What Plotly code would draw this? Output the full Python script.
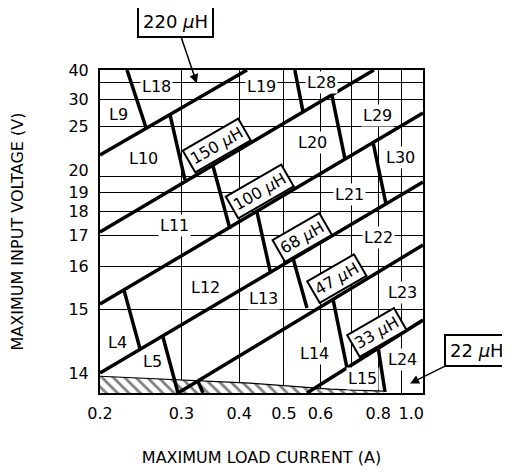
import numpy as np
import plotly.graph_objects as go

# ---- axis definitions -------------------------------------------------------
VOUT = 12.0          # output voltage of the regulator (y axis is E*T, log scale)

x_tick_vals = [0.2, 0.3, 0.4, 0.5, 0.6, 0.8, 1.0]
x_tick_text = ["0.2", "0.3", "0.4", "0.5", "0.6", "0.8", "1.0"]
x_grid_vals = [0.3, 0.4, 0.5, 0.6, 0.7, 0.8, 0.9]

y_tick_vals = [14, 15, 16, 17, 18, 19, 20, 25, 30, 40]
y_tick_text = ["14", "15", "16", "17", "18", "19", "20", "25", "30", "40"]
y_grid_vals = [15, 16, 17, 18, 19, 20, 25, 30, 35]

I_MIN, I_MAX = 0.2, 1.0
V_MIN, V_MAX = 13.78, 40.0

# ---- inductance boundaries (thick diagonal lines) ---------------------------
bound_i_start = [0.2, 0.2, 0.2, 0.2, 0.295, 0.561]
bound_v_start = [21.77, 17.14, 15.11, 14.01, 13.78, 13.78]
bound_i_end = [0.416, 0.783, 1.0, 1.0, 1.0, 1.0]
bound_v_end = [40.0, 40.0, 27.2, 19.66, 16.67, 14.80]

# ---- part-number dividers (thick near-vertical lines) -----------------------
div_i_start = [0.2288, 0.528, 0.2836, 0.6355, 0.3512, 0.4373, 0.7794,
               0.2254, 0.2738, 0.5232, 0.6386, 0.7992, 0.3259]
div_v_start = [40.0, 40.0, 26.85, 30.9, 20.82, 17.99, 23.09,
               15.41, 14.51, 16.25, 15.21, 14.36, 13.91]
div_i_end = [0.2515, 0.550, 0.3054, 0.678, 0.3822, 0.4667, 0.8317,
             0.2442, 0.2950, 0.561, 0.6848, 0.8276, 0.3342]
div_v_end = [24.9, 27.4, 19.8, 21.4, 17.26, 15.89, 18.38,
             14.33, 13.78, 15.03, 14.07, 13.79, 13.78]

# ---- forbidden (hatched) zone upper edge ------------------------------------
hatch_i = [0.2, 0.4223, 0.6292, 0.8194]
hatch_v = [13.97, 13.89, 13.822, 13.80]

# ---- part labels --------------------------------------------------------------
part_names = ["L9", "L18", "L19", "L28", "L10", "L29", "L20", "L30", "L11",
              "L21", "L22", "L12", "L13", "L23", "L4", "L5", "L14", "L24", "L15"]
part_i = [0.2198, 0.2656, 0.4462, 0.6016, 0.2490, 0.7952, 0.5752, 0.8920, 0.2892,
          0.6950, 0.7992, 0.3375, 0.4528, 0.9008, 0.2177, 0.2592, 0.5838, 0.9008, 0.7380]
part_v = [27.03, 33.68, 33.68, 34.69, 21.49, 26.85, 22.98, 21.58, 17.38,
          18.92, 16.92, 15.46, 15.23, 15.35, 14.43, 14.15, 14.27, 14.18, 13.948]

# ---- inductance value tags (rotated boxes) ----------------------------------
ind_names = ["150", "100", "68", "47", "33"]
ind_i = [0.3582, 0.4438, 0.5472, 0.6519, 0.7952]
ind_v = [22.66, 19.04, 16.95, 15.68, 14.58]

# ---- callouts with arrows -----------------------------------------------------
call_names = ["220", "22"]
call_i = [0.3239, 0.9376]
call_v = [34.58, 13.886]
call_ax = [-21, 67]
call_ay = [-62, -33]

# small label nudges (as in the original drawing, crowded labels are shifted)
x_label_nudge = {1.0: 0.943}
y_label_nudge = {20: 20.5}


def et(v):
    v = np.asarray(v, dtype=float)
    return (v - VOUT) * VOUT / v


def seg_xy(i0, v0, i1, v1):
    xs, ys = [], []
    for a, b, c, d in zip(i0, v0, i1, v1):
        xs += [a, c, None]
        ys += [float(et(b)), float(et(d)), None]
    return xs, ys


fig = go.Figure()

# hatched zone
hx = hatch_i + [hatch_i[-1], hatch_i[0]]
hy = list(et(hatch_v)) + [float(et(V_MIN)) * 0.98, float(et(V_MIN)) * 0.98]
fig.add_trace(go.Scatter(
    x=hx, y=hy, mode="none", fill="toself", fillcolor="white",
    fillpattern=dict(shape="\\", fgcolor="black", bgcolor="white", size=8, solidity=0.35),
    hoverinfo="skip"))
fig.add_trace(go.Scatter(x=hatch_i, y=list(et(hatch_v)), mode="lines",
                         line=dict(color="black", width=1.2), hoverinfo="skip"))

bx, by = seg_xy(bound_i_start, bound_v_start, bound_i_end, bound_v_end)
fig.add_trace(go.Scatter(x=bx, y=by, mode="lines",
                         line=dict(color="black", width=3.5), hoverinfo="skip"))
dx, dy = seg_xy(div_i_start, div_v_start, div_i_end, div_v_end)
fig.add_trace(go.Scatter(x=dx, y=dy, mode="lines",
                         line=dict(color="black", width=3.5), hoverinfo="skip"))

FONT = "DejaVu Sans"
annotations = []
for n, i, v in zip(part_names, part_i, part_v):
    annotations.append(dict(x=np.log10(i), y=np.log10(float(et(v))), text=n,
                            showarrow=False, bgcolor="white", borderpad=1,
                            font=dict(family=FONT, size=16, color="black")))
for n, i, v in zip(ind_names, ind_i, ind_v):
    annotations.append(dict(x=np.log10(i), y=np.log10(float(et(v))),
                            text=f"{n} <i>μ</i>H", textangle=-30, showarrow=False,
                            bgcolor="white", bordercolor="black", borderwidth=2, borderpad=2,
                            font=dict(family=FONT, size=16, color="black")))
for n, i, v, ax, ay in zip(call_names, call_i, call_v, call_ax, call_ay):
    annotations.append(dict(x=np.log10(i), y=np.log10(float(et(v))),
                            text=f"{n} <i>μ</i>H", showarrow=True, ax=ax, ay=ay,
                            arrowhead=2, arrowsize=1.2, arrowwidth=1.5, arrowcolor="black",
                            bgcolor="white", bordercolor="black", borderwidth=2, borderpad=4,
                            font=dict(family=FONT, size=18, color="black")))

x_label_pos = [x_label_nudge.get(v, v) for v in x_tick_vals]
y_label_pos = [y_label_nudge.get(v, v) for v in y_tick_vals]

fig.update_layout(
    width=502, height=465,
    margin=dict(l=92, r=87, t=62, b=80, autoexpand=False),
    paper_bgcolor="white", plot_bgcolor="white",
    showlegend=False,
    font=dict(family=FONT, size=16, color="black"),
    annotations=annotations,
    xaxis=dict(
        type="log", range=[np.log10(I_MIN), np.log10(I_MAX)],
        tickmode="array", tickvals=x_label_pos, ticktext=x_tick_text,
        showgrid=False, ticks="", zeroline=False, ticklabelstandoff=5,
        minor=dict(tickmode="array", tickvals=x_grid_vals, showgrid=True,
                   gridcolor="black", gridwidth=1, ticks=""),
        showline=True, linecolor="black", linewidth=2, mirror=True,
        title=dict(text="MAXIMUM LOAD CURRENT (A)", standoff=30,
                   font=dict(family=FONT, size=16)),
        tickfont=dict(family=FONT, size=16),
    ),
    yaxis=dict(
        type="log", range=[np.log10(float(et(V_MIN))), np.log10(float(et(V_MAX)))],
        tickmode="array", tickvals=list(et(y_label_pos)), ticktext=y_tick_text,
        showgrid=False, ticks="", zeroline=False, ticklabelstandoff=6,
        minor=dict(tickmode="array", tickvals=list(et(y_grid_vals)), showgrid=True,
                   gridcolor="black", gridwidth=1, ticks=""),
        showline=True, linecolor="black", linewidth=2, mirror=True,
        title=dict(text="MAXIMUM INPUT VOLTAGE (V)", standoff=48,
                   font=dict(family=FONT, size=16)),
        tickfont=dict(family=FONT, size=16),
    ),
)

fig.write_html("out.html")
